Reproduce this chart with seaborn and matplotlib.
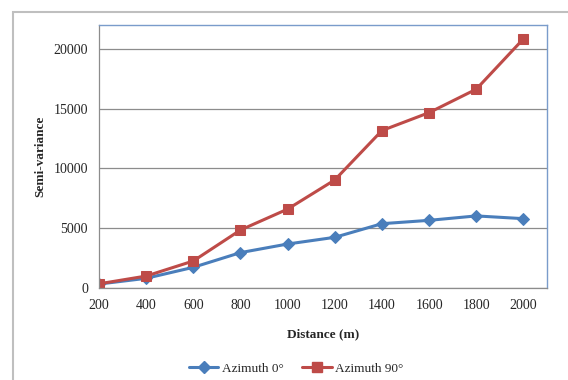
import numpy as np
import pandas as pd
import matplotlib
matplotlib.use("Agg")
import matplotlib.pyplot as plt
import seaborn as sns
from matplotlib.patches import Rectangle
from matplotlib.lines import Line2D

distance = [200, 400, 600, 800, 1000, 1200, 1400, 1600, 1800, 2000]
azimuth_0 = [330, 810, 1730, 2960, 3680, 4240, 5380, 5660, 6030, 5800]
azimuth_90 = [350, 1000, 2260, 4850, 6600, 9040, 13170, 14670, 16630, 20840]
series_names = ["Azimuth 0°", "Azimuth 90°"]
y_ticks = [0, 5000, 10000, 15000, 20000]

BLUE = "#4A7EBB"
RED = "#BE4B48"

df = pd.DataFrame({
    "distance": distance * 2,
    "semivar": azimuth_0 + azimuth_90,
    "series": [series_names[0]] * len(distance) + [series_names[1]] * len(distance),
})

sns.set_style("white")
plt.rcParams["font.family"] = ["Liberation Serif", "DejaVu Serif"]

fig = plt.figure(figsize=(5.68, 3.8), dpi=100)
ax = fig.add_axes([99 / 568, 92 / 380, 448 / 568, 263 / 380])

# outer chart border (extends past the image on right/bottom)
fig.patches.append(Rectangle((13 / 568, -0.05), 1.0, 1 - 12 / 380 + 0.05,
                             transform=fig.transFigure, fill=False,
                             edgecolor="#BFBFBF", linewidth=1.5))

for name, color, marker, ms in [(series_names[0], BLUE, "D", 6),
                                (series_names[1], RED, "s", 7)]:
    sub = df[df["series"] == name]
    sns.lineplot(data=sub, x="distance", y="semivar", ax=ax, color=color,
                 marker=marker, markersize=ms, markeredgecolor=color,
                 linewidth=2.2, legend=False)

ax.set_xlim(200, 2100)
ax.set_ylim(0, 22000)
ax.set_xticks(distance)
ax.set_yticks(y_ticks)
ax.tick_params(axis="both", length=0, labelsize=10, pad=8)
ax.grid(axis="y", color="#8C8C8C", linewidth=0.9)
ax.set_axisbelow(True)

for side in ["left", "bottom"]:
    ax.spines[side].set_color("#8C8C8C")
    ax.spines[side].set_linewidth(0.9)
for side in ["top", "right"]:
    ax.spines[side].set_color("#7A9CCB")
    ax.spines[side].set_linewidth(1.0)

ax.set_xlabel("Distance (m)", fontsize=9.5, fontweight="bold", labelpad=12)
ax.set_ylabel("Semi-variance", fontsize=9.5, fontweight="bold", labelpad=5)

handles = [Line2D([], [], color=BLUE, marker="D", markersize=6, linewidth=2.2),
           Line2D([], [], color=RED, marker="s", markersize=7, linewidth=2.2)]
fig.legend(handles, series_names, loc="center", bbox_to_anchor=(0.522, 0.03),
           ncol=2, frameon=False, fontsize=9.5, handlelength=2.2,
           columnspacing=1.4, handletextpad=0.3)

fig.savefig("out.png", dpi=100)
